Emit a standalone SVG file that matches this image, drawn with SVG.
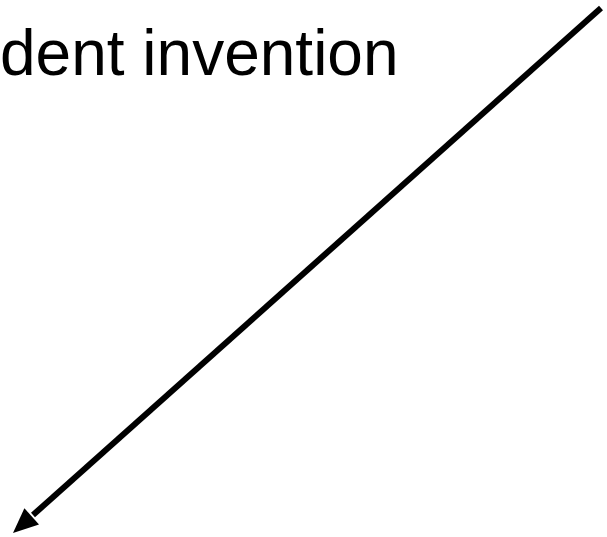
<svg xmlns="http://www.w3.org/2000/svg" width="607" height="537" viewBox="0 0 607 537">
<style>
.lbl{font-family:"Liberation Sans",Arial,sans-serif;font-size:64px;fill:#000}
.edge{stroke:#000;stroke-width:6;fill:none}
.head{fill:#000}
</style>
<rect width="607" height="537" fill="#fff"/>
<g id="label-node">
<text class="lbl" x="0" y="75">dent invention</text>
</g>
<g id="connectors">
<line class="edge" x1="601" y1="8" x2="33" y2="515"/>
<polygon class="head" points="13,533 24.4,508.2 39,524.6"/>
</g>
</svg>
